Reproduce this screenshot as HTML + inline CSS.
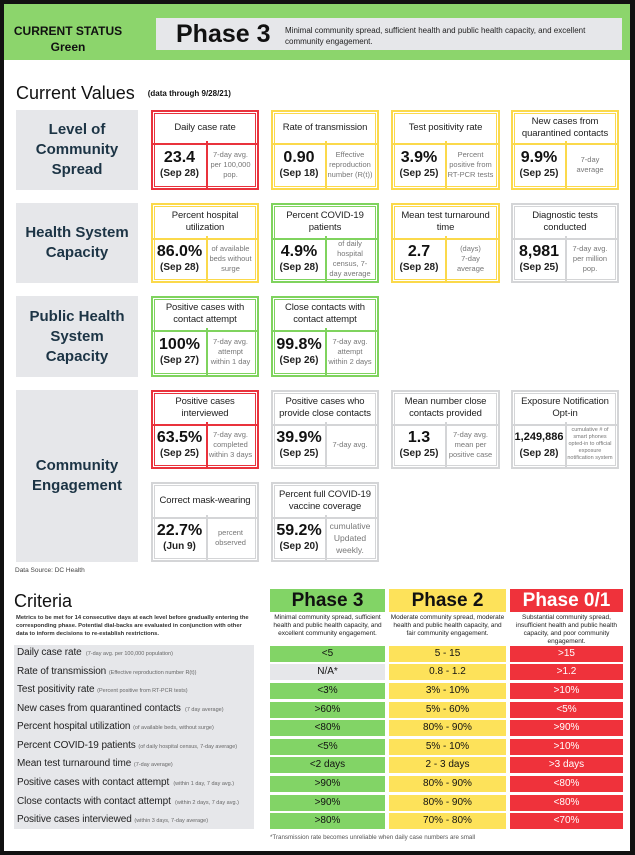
<!DOCTYPE html>
<html><head><meta charset="utf-8"><style>
*{margin:0;padding:0;box-sizing:border-box}
body{width:635px;height:855px;background:#fff;font-family:"Liberation Sans",sans-serif;position:relative;overflow:hidden;color:#111}
.a{position:absolute}
.frame{left:0;top:0;width:635px;height:855px;border:4px solid #111;border-right-width:5px;z-index:5;pointer-events:none}
.lab{background:#e6e7ea;color:#1c3445;font-weight:bold;font-size:15px;line-height:20px;text-align:center;display:flex;align-items:center;justify-content:center}
.card{border:2px solid;box-shadow:inset 0 0 0 1px #fff,inset 0 0 0 2px var(--c);border-color:var(--c);background:#fff}
.card .h{position:absolute;left:0;right:0;top:0;border-bottom:2px solid var(--c);font-size:9.5px;text-align:center;display:flex;align-items:center;justify-content:center;line-height:12px;padding:0 3px;color:#222;letter-spacing:-0.1px}
.card .v{position:absolute;left:0;bottom:0;border-right:2px solid var(--c);text-align:center;display:flex;flex-direction:column;align-items:center;justify-content:center}
.card .v b{font-size:16px;line-height:19px}
.card .v span{font-size:10px;font-weight:bold;line-height:14px;color:#222}
.card .d{position:absolute;right:0;bottom:0;font-size:7.5px;color:#777;text-align:center;display:flex;align-items:center;justify-content:center;line-height:10px;padding:0 4px}
.R{--c:#e9323c}.Y{--c:#fbd94b}.G{--c:#7fd35e}.N{--c:#d4d5d7}
.cl{font-size:10px;color:#222;left:17px;white-space:nowrap;width:236px;overflow:hidden;letter-spacing:-0.1px}
.cl small{font-size:5.5px;color:#666;letter-spacing:0}
.c{font-size:10px;text-align:center;line-height:15px;height:16px}
.g{background:#82d466;left:270px;width:115px}
.y{background:#fde25a;left:389px;width:117px}
.r{background:#ef323b;color:#fff;left:510px;width:113px}
.ph{font-size:19px;font-weight:bold;text-align:center;line-height:23px;top:589px;height:23px}
.pd{font-size:6.5px;text-align:center;line-height:8px;top:614px;color:#222}
</style></head><body>
<div class="a frame"></div>
<div class="a" style="left:4px;top:4px;width:627px;height:56px;background:#8cd56c"></div>
<div class="a" style="left:10px;top:23px;width:116px;text-align:center;font-weight:bold;font-size:12px;line-height:16px;color:#111;white-space:nowrap">CURRENT STATUS<br>Green</div>
<div class="a" style="left:156px;top:18px;width:466px;height:32px;background:#e6e7ea"></div>
<div class="a" style="left:176px;top:19px;font-size:25px;font-weight:bold;line-height:30px">Phase 3</div>
<div class="a" style="left:285px;top:25px;width:330px;font-size:8px;line-height:11px;color:#222">Minimal community spread, sufficient health and public health capacity, and excellent community engagement.</div>

<div class="a" style="left:16px;top:82px;font-size:18px;line-height:22px">Current Values <span style="font-size:8px;font-weight:bold;margin-left:8px;vertical-align:3px">(data through 9/28/21)</span></div>

<div class="a lab" style="left:16px;top:110px;width:122px;height:80px">Level of<br>Community<br>Spread</div>
<div class="a lab" style="left:16px;top:203px;width:122px;height:80px">Health System<br>Capacity</div>
<div class="a lab" style="left:16px;top:296px;width:122px;height:81px">Public Health<br>System<br>Capacity</div>
<div class="a lab" style="left:16px;top:390px;width:122px;height:172px">Community<br>Engagement</div>

<!-- row1 -->
<div class="a card R" style="left:151px;top:110px;width:108px;height:80px"><div class="h" style="height:33px">Daily case rate</div><div class="v" style="width:55px;height:47px"><b>23.4</b><span>(Sep 28)</span></div><div class="d" style="width:53px;height:47px">7-day avg. per 100,000 pop.</div></div>
<div class="a card Y" style="left:271px;top:110px;width:108px;height:80px"><div class="h" style="height:33px">Rate of transmission</div><div class="v" style="width:54px;height:47px"><b>0.90</b><span>(Sep 18)</span></div><div class="d" style="width:54px;height:47px">Effective reproduction number (R(t))</div></div>
<div class="a card Y" style="left:391px;top:110px;width:109px;height:80px"><div class="h" style="height:33px">Test positivity rate</div><div class="v" style="width:54px;height:47px"><b>3.9%</b><span>(Sep 25)</span></div><div class="d" style="width:55px;height:47px">Percent positive from RT-PCR tests</div></div>
<div class="a card Y" style="left:511px;top:110px;width:108px;height:80px"><div class="h" style="height:33px">New cases from quarantined contacts</div><div class="v" style="width:54px;height:47px"><b>9.9%</b><span>(Sep 25)</span></div><div class="d" style="width:54px;height:47px">7-day average</div></div>

<!-- row2 -->
<div class="a card Y" style="left:151px;top:203px;width:108px;height:80px"><div class="h" style="height:35px">Percent hospital utilization</div><div class="v" style="width:55px;height:45px"><b>86.0%</b><span>(Sep 28)</span></div><div class="d" style="width:53px;height:45px">of available beds without surge</div></div>
<div class="a card G" style="left:271px;top:203px;width:108px;height:80px"><div class="h" style="height:35px">Percent COVID-19 patients</div><div class="v" style="width:54px;height:45px"><b>4.9%</b><span>(Sep 28)</span></div><div class="d" style="width:54px;height:45px">of daily hospital census, 7-day average</div></div>
<div class="a card Y" style="left:391px;top:203px;width:109px;height:80px"><div class="h" style="height:35px">Mean test turnaround time</div><div class="v" style="width:54px;height:45px"><b>2.7</b><span>(Sep 28)</span></div><div class="d" style="width:55px;height:45px">(days)<br>7-day<br>average</div></div>
<div class="a card N" style="left:511px;top:203px;width:108px;height:80px"><div class="h" style="height:35px">Diagnostic tests conducted</div><div class="v" style="width:54px;height:45px"><b>8,981</b><span>(Sep 25)</span></div><div class="d" style="width:54px;height:45px">7-day avg. per million pop.</div></div>

<!-- row3 -->
<div class="a card G" style="left:151px;top:296px;width:108px;height:81px"><div class="h" style="height:34px">Positive cases with contact attempt</div><div class="v" style="width:55px;height:47px"><b>100%</b><span>(Sep 27)</span></div><div class="d" style="width:53px;height:47px">7-day avg. attempt within 1 day</div></div>
<div class="a card G" style="left:271px;top:296px;width:108px;height:81px"><div class="h" style="height:34px">Close contacts with contact attempt</div><div class="v" style="width:54px;height:47px"><b>99.8%</b><span>(Sep 26)</span></div><div class="d" style="width:54px;height:47px">7-day avg. attempt within 2 days</div></div>

<!-- row4 -->
<div class="a card R" style="left:151px;top:390px;width:108px;height:79px"><div class="h" style="height:34px">Positive cases interviewed</div><div class="v" style="width:55px;height:45px"><b>63.5%</b><span>(Sep 25)</span></div><div class="d" style="width:53px;height:45px">7-day avg. completed within 3 days</div></div>
<div class="a card N" style="left:271px;top:390px;width:108px;height:79px"><div class="h" style="height:34px">Positive cases who provide close contacts</div><div class="v" style="width:54px;height:45px"><b>39.9%</b><span>(Sep 25)</span></div><div class="d" style="width:54px;height:45px">7-day avg.</div></div>
<div class="a card N" style="left:391px;top:390px;width:109px;height:79px"><div class="h" style="height:34px">Mean number close contacts provided</div><div class="v" style="width:54px;height:45px"><b>1.3</b><span>(Sep 25)</span></div><div class="d" style="width:55px;height:45px">7-day avg. mean per positive case</div></div>
<div class="a card N" style="left:511px;top:390px;width:108px;height:79px"><div class="h" style="height:34px">Exposure Notification Opt-in</div><div class="v" style="width:54px;height:45px"><b style="font-size:11px">1,249,886</b><span>(Sep 28)</span></div><div class="d" style="width:54px;height:45px;font-size:5.5px;line-height:7px;padding:0 2px">cumulative # of smart phones opted-in to official exposure notification system</div></div>

<div class="a card N" style="left:151px;top:482px;width:108px;height:80px"><div class="h" style="height:35px">Correct mask-wearing</div><div class="v" style="width:55px;height:45px"><b>22.7%</b><span>(Jun 9)</span></div><div class="d" style="width:53px;height:45px">percent observed</div></div>
<div class="a card N" style="left:271px;top:482px;width:108px;height:80px"><div class="h" style="height:35px">Percent full COVID-19 vaccine coverage</div><div class="v" style="width:54px;height:45px"><b>59.2%</b><span>(Sep 20)</span></div><div class="d" style="width:54px;height:45px;font-size:8.5px;line-height:12px">cumulative Updated weekly.</div></div>

<div class="a" style="left:15px;top:567px;font-size:6.5px;color:#444">Data Source: DC Health</div>

<!-- criteria -->
<div class="a" style="left:14px;top:590px;font-size:18px;line-height:22px">Criteria</div>
<div class="a" style="left:16px;top:614px;width:236px;font-size:5.8px;line-height:8px;font-weight:bold;color:#333">Metrics to be met for 14 consecutive days at each level before gradually entering the corresponding phase. Potential dial-backs are evaluated in conjunction with other data to inform decisions to re-establish restrictions.</div>

<div class="a ph g">Phase 3</div>
<div class="a ph y">Phase 2</div>
<div class="a ph r">Phase 0/1</div>
<div class="a pd" style="left:270px;width:115px">Minimal community spread, sufficient health and public health capacity, and excellent community engagement.</div>
<div class="a pd" style="left:389px;width:117px">Moderate community spread, moderate health and public health capacity, and fair community engagement.</div>
<div class="a pd" style="left:510px;width:113px">Substantial community spread, insufficient health and public health capacity, and poor community engagement.</div>

<div class="a" style="left:14px;top:645px;width:240px;height:184px;background:#e6e7ea"></div>

<div class="a cl" style="top:647px">Daily case rate <small>&nbsp;(7-day avg. per 100,000 population)</small></div>
<div class="a cl" style="top:666px">Rate of transmission <small>(Effective reproduction number R(t))</small></div>
<div class="a cl" style="top:684px">Test positivity rate <small>(Percent positive from RT-PCR tests)</small></div>
<div class="a cl" style="top:703px">New cases from quarantined contacts <small>&nbsp;(7 day average)</small></div>
<div class="a cl" style="top:721px">Percent hospital utilization <small>(of available beds, without surge)</small></div>
<div class="a cl" style="top:740px">Percent COVID-19 patients <small>(of daily hospital census, 7-day average)</small></div>
<div class="a cl" style="top:758px">Mean test turnaround time <small>(7-day average)</small></div>
<div class="a cl" style="top:777px">Positive cases with contact attempt <small>&nbsp;(within 1 day, 7 day avg.)</small></div>
<div class="a cl" style="top:796px">Close contacts with contact attempt <small>&nbsp;(within 2 days, 7 day avg.)</small></div>
<div class="a cl" style="top:814px">Positive cases interviewed <small>(within 3 days, 7-day average)</small></div>

<div class="a c g" style="top:646px">&lt;5</div><div class="a c y" style="top:646px">5 - 15</div><div class="a c r" style="top:646px">&gt;15</div>
<div class="a c g" style="top:664px;background:#e6e7ea">N/A*</div><div class="a c y" style="top:664px">0.8 - 1.2</div><div class="a c r" style="top:664px">&gt;1.2</div>
<div class="a c g" style="top:683px">&lt;3%</div><div class="a c y" style="top:683px">3% - 10%</div><div class="a c r" style="top:683px">&gt;10%</div>
<div class="a c g" style="top:702px">&gt;60%</div><div class="a c y" style="top:702px">5% - 60%</div><div class="a c r" style="top:702px">&lt;5%</div>
<div class="a c g" style="top:720px">&lt;80%</div><div class="a c y" style="top:720px">80% - 90%</div><div class="a c r" style="top:720px">&gt;90%</div>
<div class="a c g" style="top:739px">&lt;5%</div><div class="a c y" style="top:739px">5% - 10%</div><div class="a c r" style="top:739px">&gt;10%</div>
<div class="a c g" style="top:757px">&lt;2 days</div><div class="a c y" style="top:757px">2 - 3 days</div><div class="a c r" style="top:757px">&gt;3 days</div>
<div class="a c g" style="top:776px">&gt;90%</div><div class="a c y" style="top:776px">80% - 90%</div><div class="a c r" style="top:776px">&lt;80%</div>
<div class="a c g" style="top:795px">&gt;90%</div><div class="a c y" style="top:795px">80% - 90%</div><div class="a c r" style="top:795px">&lt;80%</div>
<div class="a c g" style="top:813px">&gt;80%</div><div class="a c y" style="top:813px">70% - 80%</div><div class="a c r" style="top:813px">&lt;70%</div>

<div class="a" style="left:270px;top:834px;font-size:6.2px;color:#555">*Transmission rate becomes unreliable when daily case numbers are small</div>
</body></html>
